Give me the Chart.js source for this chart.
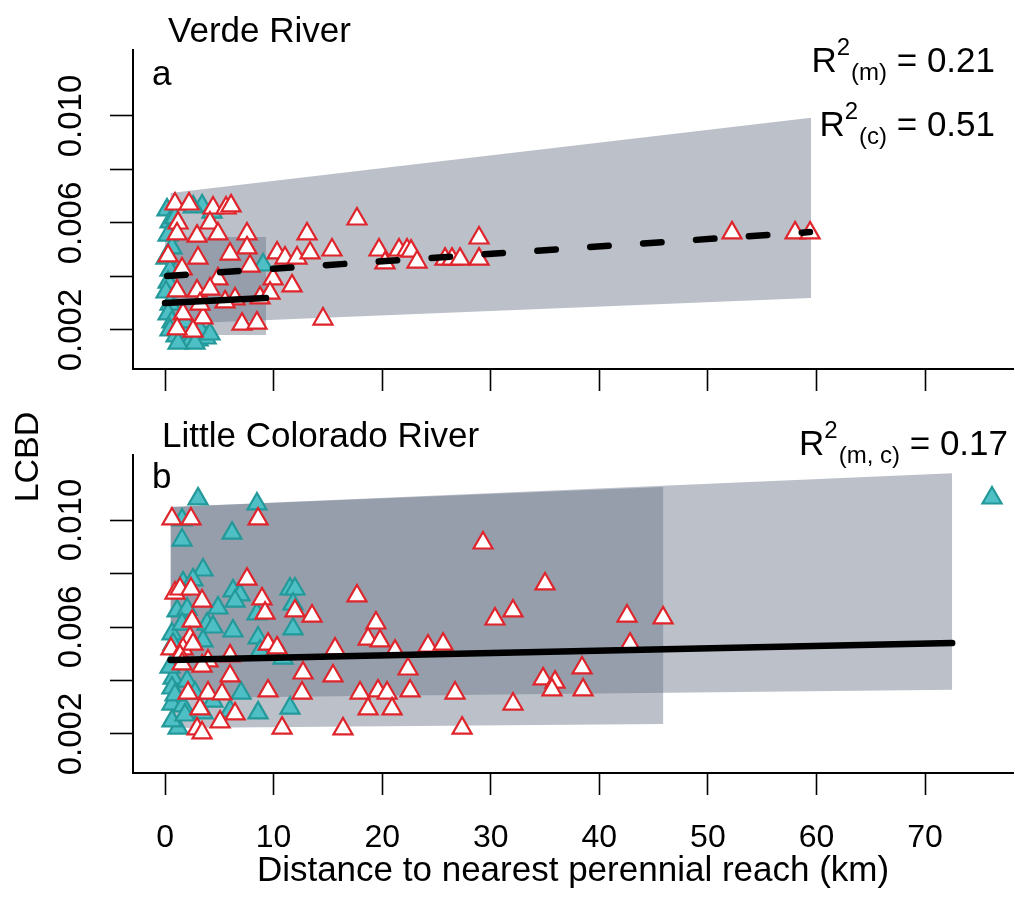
<!DOCTYPE html>
<html><head><meta charset="utf-8">
<script src="https://cdn.jsdelivr.net/npm/chart.js@4.4.0/dist/chart.umd.min.js"></script>
<style>
html,body{margin:0;padding:0;background:#fff;}
#wrap{position:relative;width:1015px;height:898px;overflow:hidden;background:#fff;}
canvas{position:absolute;left:0;}
#ca{top:0;}
#cb{top:400px;}
</style></head><body>
<div id="wrap"><canvas id="ca" width="1015" height="400"></canvas><canvas id="cb" width="1015" height="498"></canvas></div>
<script>
// ---- axis ticks ----
const xTickValues = [0,10,20,30,40,50,60,70];
const xTickLabels = ['0','10','20','30','40','50','60','70'];
const yTickValues = [0.002,0.004,0.006,0.008,0.010];
const yTickLabels = ['0.002','','0.006','','0.010'];
const xTitle = 'Distance to nearest perennial reach (km)';

// ---- panel a: Verde River ----
const verdeRedX = [0.92,2.21,4.42,5.62,6.08,1.20,4.14,1.11,2.95,4.88,7.55,7.55,13.08,0.28,3.04,5.99,1.57,7.83,10.32,11.05,12.16,13.36,4.88,9.95,11.70,1.11,2.95,4.14,6.45,8.75,9.67,1.66,3.50,2.58,1.11,7.09,8.47,14.55,17.68,15.38,19.71,20.26,21.55,22.29,22.66,23.21,25.79,26.43,27.17,28.92,28.92,52.22,58.03,59.41,3.22,5.53];
const verdeRedY = [0.00671,0.00671,0.00656,0.00656,0.00664,0.00600,0.00600,0.00559,0.00551,0.00559,0.00559,0.00507,0.00559,0.00477,0.00469,0.00484,0.00428,0.00439,0.00488,0.00469,0.00469,0.00488,0.00391,0.00391,0.00365,0.00346,0.00346,0.00353,0.00316,0.00320,0.00338,0.00260,0.00245,0.00196,0.00204,0.00222,0.00226,0.00241,0.00615,0.00499,0.00499,0.00451,0.00499,0.00499,0.00495,0.00454,0.00465,0.00465,0.00465,0.00544,0.00465,0.00563,0.00563,0.00563,0.00297,0.00305];
const verdeTealX = [0.18,0.46,0.28,0.64,0.09,0.46,0.28,0.09,0.46,0.28,0.64,0.46,1.01,1.57,2.30,3.04,3.78,1.93,3.22,3.41,4.33,9.03,2.76,1.20,4.14,1.84,0.90,2.60];
const verdeTealY = [0.00649,0.00604,0.00555,0.00507,0.00469,0.00424,0.00379,0.00342,0.00297,0.00260,0.00230,0.00200,0.00178,0.00163,0.00155,0.00163,0.00170,0.00193,0.00200,0.00664,0.00641,0.00443,0.00151,0.00151,0.00185,0.00230,0.00620,0.00660];
const verdeDashX = [0.2,59.4];
const verdeDashY = [0.00402,0.00566];
const verdeSolidX = [0.0,9.3];
const verdeSolidY = [0.00301,0.00320];
const verdeBandX = [0.5,59.5];
const verdeBandUpper = [0.00712,0.00993];
const verdeBandLower = [0.00222,0.00320];
const verdeBand2X = [0.0,9.3];
const verdeBand2Upper = [0.00548,0.00548];
const verdeBand2Lower = [0.00181,0.00181];

// ---- panel b: Little Colorado River ----
const lcrRedX = [0.64,2.39,8.57,7.55,0.92,1.38,2.39,3.41,8.93,9.21,11.97,13.54,17.68,19.43,18.70,19.80,2.49,2.30,0.55,1.66,2.58,5.99,9.49,10.32,15.66,21.18,24.22,25.61,5.99,12.71,15.47,22.38,2.12,3.96,5.25,9.49,12.62,17.96,19.62,20.45,22.57,26.71,3.22,6.45,5.07,18.70,20.91,32.05,2.95,3.41,10.78,16.39,27.36,29.29,30.39,32.05,35.00,42.55,45.87,42.83,38.41,34.82,35.92,35.64,38.50,1.38,3.96,3.41,1.57];
const lcrRedY = [0.01004,0.01004,0.01004,0.00779,0.00727,0.00742,0.00742,0.00697,0.00705,0.00652,0.00660,0.00641,0.00716,0.00615,0.00555,0.00548,0.00622,0.00559,0.00518,0.00518,0.00536,0.00492,0.00536,0.00522,0.00518,0.00510,0.00529,0.00536,0.00417,0.00428,0.00417,0.00443,0.00353,0.00353,0.00350,0.00361,0.00353,0.00353,0.00361,0.00353,0.00361,0.00353,0.00294,0.00275,0.00245,0.00294,0.00294,0.00312,0.00219,0.00204,0.00222,0.00219,0.00222,0.00914,0.00630,0.00660,0.00761,0.00641,0.00634,0.00536,0.00447,0.00406,0.00394,0.00365,0.00365,0.00492,0.00473,0.00454,0.00462];
const lcrTealX = [3.04,8.47,1.57,1.57,6.17,3.50,1.66,2.58,6.26,6.91,11.51,11.97,1.11,2.03,4.88,6.45,11.79,8.47,3.87,4.42,6.26,11.79,0.64,1.57,8.57,0.74,3.50,10.87,8.75,0.74,0.64,2.03,7.00,0.64,1.66,4.42,8.57,11.51,1.20,0.64,5.99,3.50,0.46,0.92,1.84,2.76];
const lcrTealY = [0.01079,0.01060,0.01000,0.00925,0.00951,0.00813,0.00765,0.00776,0.00735,0.00720,0.00742,0.00742,0.00660,0.00667,0.00671,0.00697,0.00686,0.00649,0.00611,0.00600,0.00585,0.00593,0.00574,0.00611,0.00559,0.00536,0.00548,0.00484,0.00510,0.00409,0.00372,0.00398,0.00353,0.00312,0.00305,0.00323,0.00279,0.00297,0.00222,0.00249,0.00286,0.00279,0.00450,0.00346,0.00271,0.00353];
const lcrLineX = [0.5,72.5];
const lcrLineY = [0.00477,0.00540];
const lcrBandAX = [0.5,45.9];
const lcrBandAUpper = [0.01049,0.01123];
const lcrBandALower = [0.00222,0.00237];
const lcrBandBX = [0.5,72.5];
const lcrBandBUpper = [0.01049,0.01175];
const lcrBandBLower = [0.00335,0.00365];

// ---- styles ----
const FONT = '"Liberation Sans", Arial, Helvetica, sans-serif';
const RED = '#e0242b';
const TEAL_FILL = '#4fbfc6';
const TEAL_EDGE = '#23999a';
const BAND = 'rgba(107,118,138,0.46)';
Chart.defaults.font.family = FONT;
Chart.defaults.color = '#000';

const zip = (xs, ys) => xs.map((x, i) => ({x: x, y: ys[i]}));

function pts(xs, ys, fill, edge) {
  return {type:'scatter', data: zip(xs, ys), pointStyle:'triangle', pointRadius:11,
    pointBackgroundColor: fill, pointBorderColor: edge, pointBorderWidth: 2.2, showLine:false};
}
function line(xs, ys, dash) {
  return {type:'line', data: zip(xs, ys), borderColor:'#000', borderWidth:6.5, pointRadius:0,
    borderDash: dash || [], borderCapStyle:'round', fill:false, tension:0};
}
function bandUpper(xs, ys) {
  return {type:'line', data: zip(xs, ys), borderColor:'rgba(0,0,0,0)', borderWidth:0, pointRadius:0,
    fill:'+1', backgroundColor: BAND, tension:0};
}
function bandLower(xs, ys) {
  return {type:'line', data: zip(xs, ys), borderColor:'rgba(0,0,0,0)', borderWidth:0, pointRadius:0,
    fill:false, tension:0};
}

function makeScales(yMin, yMax, showX, xAxisHeight) {
  return {
    x: {type:'linear', min:-2.95, max:78.1,
      afterBuildTicks: s => { s.ticks = xTickValues.map(v => ({value:v})); },
      afterFit: s => { s.height = xAxisHeight; },
      grid: {drawOnChartArea:false, drawTicks:true, tickLength:22, tickColor:'#000', tickWidth:1.6},
      border: {display:true, color:'#000', width:2},
      ticks: {display:showX, autoSkip:false, minRotation:0, maxRotation:0, padding:24, color:'#000',
        font:{size:32, family:FONT}, callback:(v, i) => xTickLabels[i]},
      title: {display:showX, text:xTitle, color:'#000', font:{size:35, family:FONT}, padding:{top:0, bottom:6}}
    },
    y: {type:'linear', min:yMin, max:yMax,
      afterBuildTicks: s => { s.ticks = yTickValues.map(v => ({value:v})); },
      afterFit: s => { s.width = 133; },
      grid: {drawOnChartArea:false, drawTicks:true, tickLength:23, tickColor:'#000', tickWidth:1.6},
      border: {display:true, color:'#000', width:2},
      ticks: {autoSkip:false, minRotation:90, maxRotation:90, crossAlign:'center', padding:-3, color:'#000',
        font:{size:33, family:FONT}, callback:(v, i) => yTickLabels[i]}
    }
  };
}

function txt(ctx, s, x, y, size, align) {
  ctx.save();
  ctx.font = size + 'px ' + FONT;
  ctx.textAlign = align || 'left';
  ctx.textBaseline = 'alphabetic';
  ctx.fillStyle = '#000';
  ctx.fillText(s, x, y);
  ctx.restore();
}
function r2(ctx, right, base, sub, val) {
  const big = '35px ' + FONT, small = '24px ' + FONT;
  const tail = ' = ' + val;
  ctx.save();
  ctx.font = big; const wR = ctx.measureText('R').width; const wT = ctx.measureText(tail).width;
  ctx.font = small; const w2 = ctx.measureText('2').width; const wS = ctx.measureText(sub).width;
  let x = right - (wR + w2 + 1 + wS + wT);
  ctx.fillStyle = '#000'; ctx.textAlign = 'left'; ctx.textBaseline = 'alphabetic';
  ctx.font = big; ctx.fillText('R', x, base); x += wR;
  ctx.font = small; ctx.fillText('2', x, base - 17); x += w2 + 1;
  ctx.fillText(sub, x, base + 8); x += wS;
  ctx.font = big; ctx.fillText(tail, x, base);
  ctx.restore();
}

const textA = {id:'textA', afterDraw(chart) {
  const c = chart.ctx;
  txt(c, 'Verde River', 168, 42, 35);
  txt(c, 'a', 152, 85, 35);
  r2(c, 995, 72, '(m)', '0.21');
  r2(c, 995, 136, '(c)', '0.51');
}};
const textB = {id:'textB', afterDraw(chart) {
  const c = chart.ctx;
  txt(c, 'Little Colorado River', 162, 47, 35);
  txt(c, 'b', 152, 88, 35);
  r2(c, 1008, 55, '(m, c)', '0.17');
  c.save();
  c.translate(38, 57); c.rotate(-Math.PI / 2);
  c.font = '34px ' + FONT; c.textAlign = 'center'; c.textBaseline = 'alphabetic'; c.fillStyle = '#000';
  c.fillText('LCBD', 0, 0);
  c.restore();
  // legend key (partly cut off in the original)
  const cx = 992, cy = 98, r = 11;
  c.save();
  c.beginPath();
  for (let k = 0; k < 3; k++) {
    const a = k * 2 * Math.PI / 3;
    const px = cx + Math.sin(a) * r, py = cy - Math.cos(a) * r;
    if (k === 0) c.moveTo(px, py); else c.lineTo(px, py);
  }
  c.closePath();
  c.fillStyle = TEAL_FILL; c.fill();
  c.lineWidth = 2.2; c.strokeStyle = TEAL_EDGE; c.stroke();
  c.restore();
}};

const common = {responsive:false, devicePixelRatio:1, animation:false, events:[],
  plugins:{legend:{display:false}, tooltip:{enabled:false}}};

new Chart(document.getElementById('ca'), {
  type:'scatter',
  data:{datasets:[
    line(verdeDashX, verdeDashY, [18.5, 34.5]),
    line(verdeSolidX, verdeSolidY),
    pts(verdeRedX, verdeRedY, '#ffffff', RED),
    pts(verdeTealX, verdeTealY, TEAL_FILL, TEAL_EDGE),
    bandUpper(verdeBand2X, verdeBand2Upper),
    bandLower(verdeBand2X, verdeBand2Lower),
    bandUpper(verdeBandX, verdeBandUpper),
    bandLower(verdeBandX, verdeBandLower)
  ]},
  options: Object.assign({}, common, {
    layout:{autoPadding:false, padding:{top:50, right:2, left:0, bottom:0}},
    scales: makeScales(0.000542, 0.012467, false, 31)
  }),
  plugins:[textA]
});

new Chart(document.getElementById('cb'), {
  type:'scatter',
  data:{datasets:[
    line(lcrLineX, lcrLineY),
    pts(lcrRedX, lcrRedY, '#ffffff', RED),
    pts(lcrTealX, lcrTealY, TEAL_FILL, TEAL_EDGE),
    bandUpper(lcrBandAX, lcrBandAUpper),
    bandLower(lcrBandAX, lcrBandALower),
    bandUpper(lcrBandBX, lcrBandBUpper),
    bandLower(lcrBandBX, lcrBandBLower)
  ]},
  options: Object.assign({}, common, {
    layout:{autoPadding:false, padding:{top:55, right:2, left:0, bottom:0}},
    scales: makeScales(0.000542, 0.01243, true, 125)
  }),
  plugins:[textB]
});
</script>
</body></html>
